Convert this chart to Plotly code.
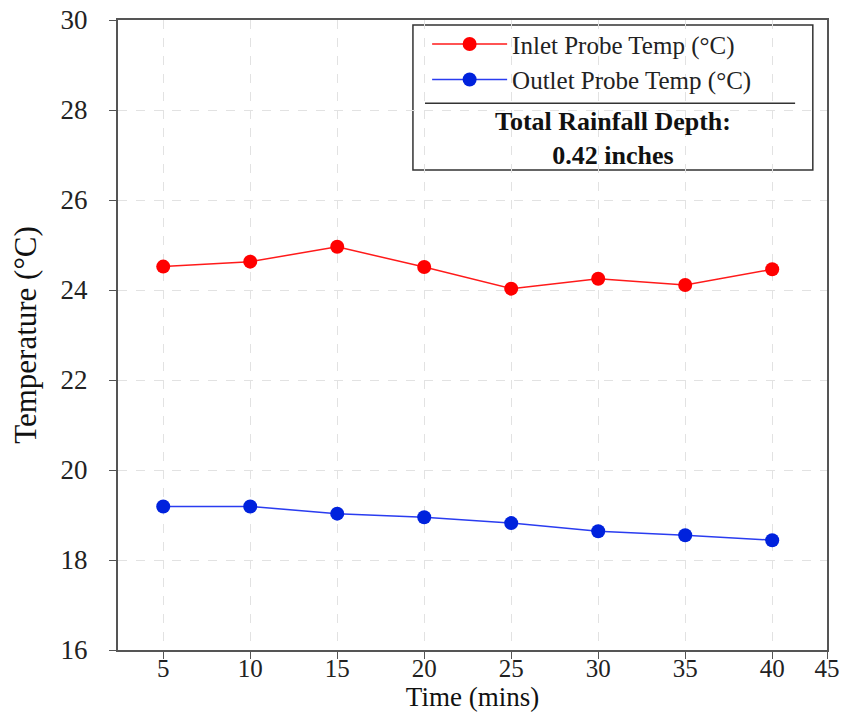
import plotly.graph_objects as go

time_mins = [5, 10, 15, 20, 25, 30, 35, 40]
inlet_temp = [24.52, 24.63, 24.96, 24.51, 24.03, 24.25, 24.11, 24.46]
outlet_temp = [19.19, 19.19, 19.03, 18.95, 18.82, 18.64, 18.55, 18.44]
x_tick_vals = [5, 10, 15, 20, 25, 30, 35, 40, 43.15]
x_tick_text = ["5", "10", "15", "20", "25", "30", "35", "40", "45"]
y_tick_vals = [16, 18, 20, 22, 24, 26, 28, 30]
rain_text = "<b>Total Rainfall Depth:<br>0.42 inches</b>"

FONT = "Liberation Serif, Times New Roman, serif"

fig = go.Figure()
fig.add_trace(go.Scatter(x=time_mins, y=inlet_temp, mode="lines+markers",
                         name="Inlet Probe Temp (°C)",
                         line=dict(color="#ff1a1a", width=1.5),
                         marker=dict(color="#ff0000", size=14)))
fig.add_trace(go.Scatter(x=time_mins, y=outlet_temp, mode="lines+markers",
                         name="Outlet Probe Temp (°C)",
                         line=dict(color="#2a3cf0", width=1.5),
                         marker=dict(color="#0022dd", size=14)))

axis_common = dict(showline=True, linecolor="#555555", linewidth=2, mirror=True,
                   ticks="outside", ticklen=7, tickcolor="#555555",
                   showgrid=True, gridcolor="#e2e2e2", griddash="dash", gridwidth=1,
                   zeroline=False, automargin=False)

fig.update_xaxes(range=[2.4, 43.15], tickvals=x_tick_vals, ticktext=x_tick_text,
                 ticklabelstandoff=-12,
                 tickfont=dict(family=FONT, size=25, color="#222"),
                 title=dict(text="Time (mins)", font=dict(family=FONT, size=27, color="#111"), standoff=6),
                 **axis_common)
fig.update_yaxes(range=[16, 30], tickvals=y_tick_vals, ticklabelstandoff=16,
                 tickfont=dict(family=FONT, size=27, color="#222"),
                 title=dict(text="Temperature (°C)", font=dict(family=FONT, size=31, color="#111")),
                 **axis_common)

# legend box
fig.add_shape(type="rect", xref="paper", yref="paper", x0=0.416, x1=0.980, y0=0.762, y1=0.992,
              line=dict(color="#333333", width=1.5), fillcolor="white", layer="below")
fig.add_shape(type="line", xref="paper", yref="paper", x0=0.433, x1=0.955, y0=0.868, y1=0.868,
              line=dict(color="#333333", width=1.5))
fig.add_annotation(xref="paper", yref="paper", x=0.698, y=0.812, text=rain_text, showarrow=False,
                   xanchor="center", yanchor="middle",
                   font=dict(family=FONT, size=26, color="#111"), align="center")

fig.update_layout(
    width=848, height=715,
    margin=dict(l=118, r=21, t=20, b=65),
    paper_bgcolor="white", plot_bgcolor="white",
    showlegend=True,
    legend=dict(x=0.436, y=0.998, xanchor="left", yanchor="top", bgcolor="rgba(0,0,0,0)",
                font=dict(family=FONT, size=25, color="#222"), itemwidth=75,
                tracegroupgap=0),
)

fig.write_html("out.html", config={"displayModeBar": False},
               post_script="document.body.style.margin='0';document.body.style.overflow='hidden';")
